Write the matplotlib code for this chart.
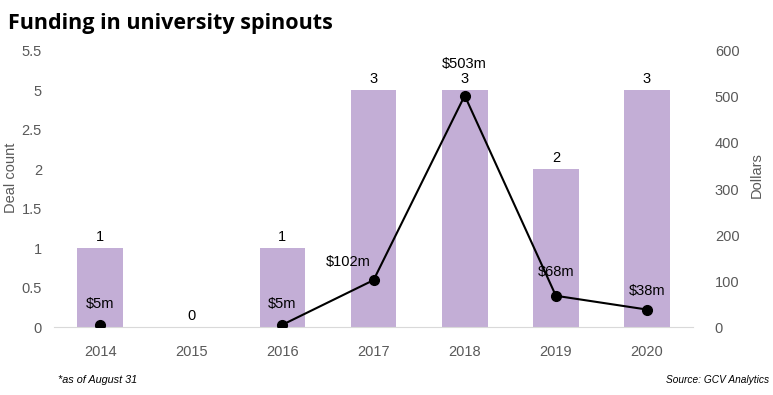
import numpy as np
import matplotlib.pyplot as plt

plt.rcParams['font.family'] = ['Liberation Sans', 'DejaVu Sans']

# Datos
years = ['2014', '2015', '2016', '2017', '2018', '2019', '2020']
deals = [1, 0, 1, 3, 3, 2, 3]
dollars = [5, np.nan, 5, 102, 503, 68, 38]
dollar_labels = ['$5m', '', '$5m', '$102m', '$503m', '$68m', '$38m']
left_ticks = [0, 0.5, 1, 1.5, 2, 2.5, 3, 3.5]
left_tick_labels = ['0', '0.5', '1', '1.5', '2', '2.5', '5', '5.5']
right_ticks = [0, 100, 200, 300, 400, 500, 600]

gray = '#595959'
fig = plt.figure(figsize=(7.73, 3.95), dpi=100)
ax = fig.add_axes([0.0705, 0.172, 0.8255, 0.699])
x = np.arange(len(years))

# Barras
ax.bar(x, deals, width=0.5, color='#C3AED6', zorder=2)
for xi, d in zip(x, deals):
    ax.annotate(str(d), (xi, d), xytext=(0, 3), textcoords='offset points',
                ha='center', va='bottom', fontsize=10.5, color='black')

ax.set_xlim(-0.5, len(years) - 0.5)
ax.set_ylim(0, 3.5)
ax.set_yticks(left_ticks)
ax.set_yticklabels(left_tick_labels)
ax.set_xticks(x)
ax.set_xticklabels(years)
ax.tick_params(length=0, colors=gray, labelsize=10.5)
ax.tick_params(axis='y', pad=9)
ax.tick_params(axis='x', pad=13)
for s in ['top', 'right', 'left']:
    ax.spines[s].set_visible(False)
ax.spines['bottom'].set_color('#D9D9D9')
ax.set_ylabel('Deal count', color=gray, fontsize=10.5)
ax.yaxis.set_label_coords(-0.057, 0.54)

# Linea de dolares
ax2 = ax.twinx()
ax2.plot(x, dollars, color='black', lw=1.5, marker='o', ms=7, zorder=3)
ax2.set_ylim(0, 600)
ax2.set_yticks(right_ticks)
ax2.tick_params(length=0, colors=gray, labelsize=10.5, pad=16)
for s in ['top', 'right', 'left', 'bottom']:
    ax2.spines[s].set_visible(False)
ax2.set_ylabel('Dollars', color=gray, fontsize=10.5)
ax2.yaxis.set_label_coords(1.090, 0.55)

offsets = [(0, 10), (0, 0), (0, 10), (-18, 8), (0, 18), (0, 12), (0, 8)]
for xi, v, lab, off in zip(x, dollars, dollar_labels, offsets):
    if lab:
        ax2.annotate(lab, (xi, v), xytext=off, textcoords='offset points',
                     ha='center', va='bottom', fontsize=10.5, color='black')

fig.text(0.01, 0.94, 'Funding in university spinouts', fontsize=15.5,
         fontweight='bold', family='Open Sans', va='center')
fig.text(0.075, 0.038, '*as of August 31', fontsize=7.8, style='italic', va='center')
fig.text(0.995, 0.038, 'Source: GCV Analytics', fontsize=7.3, style='italic',
         ha='right', va='center')

fig.savefig('out.png', dpi=100)
